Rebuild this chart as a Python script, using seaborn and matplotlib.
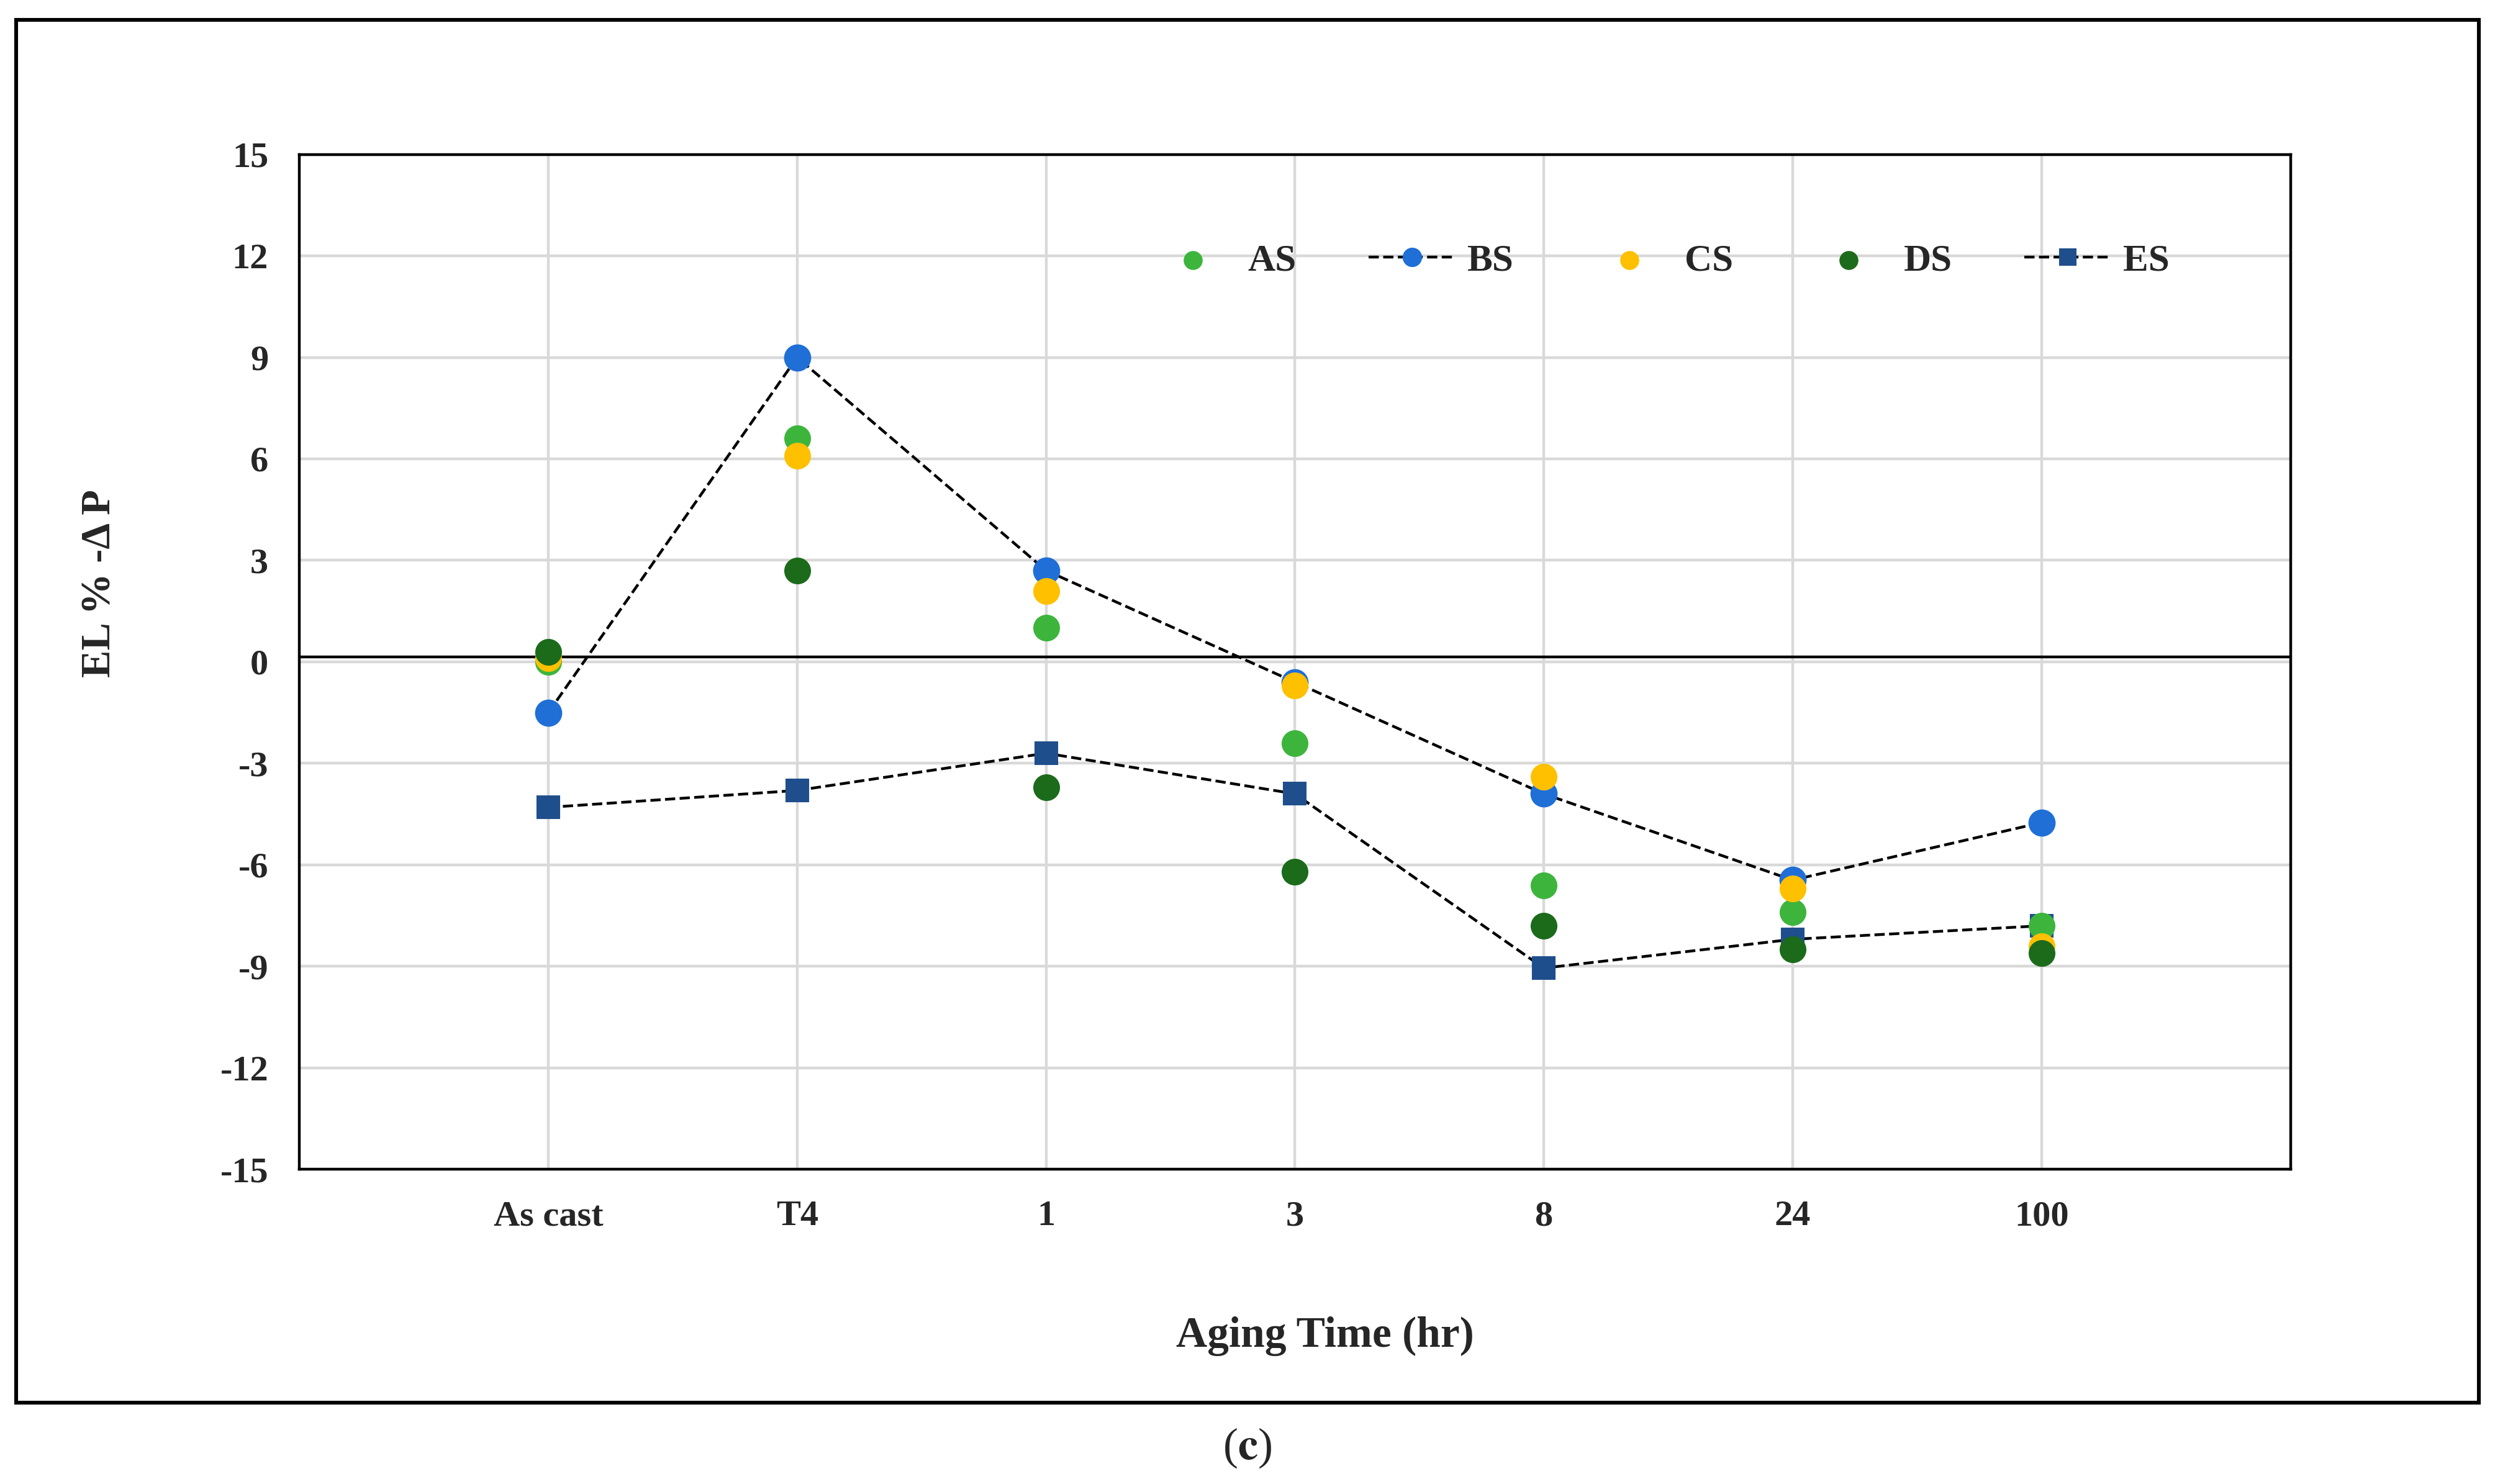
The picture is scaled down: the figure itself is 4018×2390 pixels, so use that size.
import numpy as np
import pandas as pd
import seaborn as sns
import matplotlib.pyplot as plt
from matplotlib.patches import Rectangle

sns.set_style('white')
plt.rcParams['font.family'] = ['Liberation Serif', 'DejaVu Serif']
plt.rcParams['mathtext.fontset'] = 'stix'

# data
aging_time = ['As cast', 'T4', '1', '3', '8', '24', '100']
AS = [0.0, 6.6, 1.0, -2.4, -6.6, -7.4, -7.8]
BS = [-1.5, 9.0, 2.7, -0.6, -3.9, -6.45, -4.75]
CS = [0.1, 6.1, 2.1, -0.7, -3.4, -6.7, -8.4]
DS = [0.3, 2.7, -3.7, -6.2, -7.8, -8.5, -8.6]
ES = [-4.3, -3.8, -2.7, -3.9, -9.05, -8.2, -7.8]
y_ticks = [-15, -12, -9, -6, -3, 0, 3, 6, 9, 12, 15]

colors = {'AS': '#3db53d', 'BS': '#1f6fd6', 'CS': '#ffc000',
          'DS': '#1b6b1b', 'ES': '#1f4e8c'}

df = pd.DataFrame({'time': aging_time, 'AS': AS, 'BS': BS, 'CS': CS, 'DS': DS, 'ES': ES})

fig = plt.figure(figsize=(20.09, 11.95), dpi=200)
ax = fig.add_axes([0.120, 0.212, 0.798, 0.684])

# outer frame of the panel
fig.patches.append(Rectangle((0.0064, 0.0547), 0.9872, 0.932, transform=fig.transFigure,
                             fill=False, edgecolor='black', linewidth=2.2))

ms = 15
sns.lineplot(data=df, x='time', y='BS', ax=ax, sort=False, color='black', linestyle='--',
             linewidth=1.6, marker='o', markersize=ms, markerfacecolor=colors['BS'],
             markeredgecolor=colors['BS'], label='BS', zorder=3)
sns.lineplot(data=df, x='time', y='ES', ax=ax, sort=False, color='black', linestyle='--',
             linewidth=1.6, marker='s', markersize=ms - 2, markerfacecolor=colors['ES'],
             markeredgecolor=colors['ES'], label='ES', zorder=3)
for name in ['AS', 'CS', 'DS']:
    sns.scatterplot(data=df, x='time', y=name, ax=ax, color=colors[name], s=ms ** 2,
                    edgecolor=colors[name], linewidth=0.5, label=name, zorder=4)

ax.axhline(0.15, color='black', linewidth=1.6, zorder=2)

ax.set_xlim(-1, 7)
ax.set_ylim(-15, 15)
ax.set_yticks(y_ticks)
ax.set_yticklabels([str(t) for t in y_ticks])
ax.grid(True, color='#d9d9d9', linewidth=1.6)
ax.set_axisbelow(True)
for s in ax.spines.values():
    s.set_color('black')
    s.set_linewidth(1.6)
ax.tick_params(axis='both', length=0, labelsize=21)
ax.tick_params(axis='x', pad=18)
ax.tick_params(axis='y', pad=18)
for lab in ax.get_xticklabels() + ax.get_yticklabels():
    lab.set_fontweight('bold')

ax.set_xlabel('')
ax.set_ylabel('')
fig.text(0.531, 0.0997, 'Aging Time (hr)', ha='center', va='center', fontsize=25, fontweight='bold')
fig.text(0.040, 0.607, 'EL % -Δ P', ha='center', va='center', rotation=90, fontsize=24,
         fontweight='bold')
fig.text(0.5, 0.024, r'($\mathbf{c}$)', ha='center', va='center', fontsize=26)

handles, labels = ax.get_legend_handles_labels()
order = ['AS', 'BS', 'CS', 'DS', 'ES']
hmap = dict(zip(labels, handles))
ax.legend([hmap[k] for k in order], order, loc='center', bbox_to_anchor=(0.683, 0.895),
          ncol=5, frameon=False, prop={'size': 22, 'weight': 'bold'},
          handlelength=2.3, handletextpad=0.3, columnspacing=1.9, markerscale=0.7)

fig.savefig('out.png', dpi=200, facecolor='white')
